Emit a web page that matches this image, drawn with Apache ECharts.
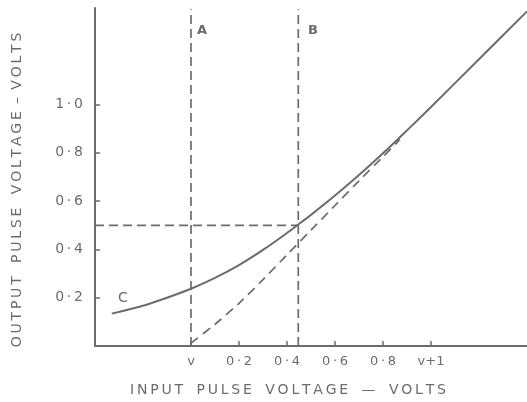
<!DOCTYPE html>
<html>
<head>
<meta charset="utf-8">
<script src="https://cdn.jsdelivr.net/npm/echarts@6/dist/echarts.min.js"></script>
<style>
html,body{margin:0;padding:0;background:#fff;}
#c{width:527px;height:402px;}
</style>
</head>
<body>
<div id="c"></div>
<script>
// ---- data ----
const xTickValues = [0, 0.2, 0.4, 0.6, 0.8, 1.0];
const xTickLabels = ['v', '0\u2009·\u20092', '0\u2009·\u20094', '0\u2009·\u20096', '0\u2009·\u20098', 'v+1'];
const yTickValues = [0.2, 0.4, 0.6, 0.8, 1.0];
const yTickLabels = ['0\u2009·\u20092', '0\u2009·\u20094', '0\u2009·\u20096', '0\u2009·\u20098', '1\u2009·\u20090'];

// curve C (solid): input vs output
const curveCx = [-0.33, -0.2, -0.1, 0, 0.1, 0.2, 0.3, 0.4, 0.447, 0.5, 0.6, 0.7, 0.8, 0.9, 1.0, 1.2, 1.4];
const curveCy = [0.134, 0.167, 0.2, 0.237, 0.282, 0.335, 0.398, 0.468, 0.503, 0.543, 0.623, 0.708, 0.798, 0.893, 0.99, 1.188, 1.386];

// dashed curve
const dashX = [0, 0.1, 0.2, 0.3, 0.4, 0.5, 0.6, 0.7, 0.8, 0.87];
const dashY = [0.012, 0.09, 0.177, 0.275, 0.378, 0.48, 0.582, 0.684, 0.784, 0.855];

// reference lines
const lineAX = [0, 0];
const lineAY = [0, 1.395];
const lineBX = [0.447, 0.447];
const lineBY = [0, 1.395];
const halfX = [-0.4, 0.447];
const halfY = [0.5, 0.5];

const markerLabels = ['A', 'B', 'C'];
const xTitle = 'I\u2009N\u2009P\u2009U\u2009T   P\u2009U\u2009L\u2009S\u2009E   V\u2009O\u2009L\u2009T\u2009A\u2009G\u2009E   —   V\u2009O\u2009L\u2009T\u2009S';
const yTitle = 'O\u2009U\u2009T\u2009P\u2009U\u2009T   P\u2009U\u2009L\u2009S\u2009E   V\u2009O\u2009L\u2009T\u2009A\u2009G\u2009E \u2009–\u2009 V\u2009O\u2009L\u2009T\u2009S';

// ---- chart ----
const ink = '#6c6c6c';
const font = 'DejaVu Sans';
const zip = (a, b) => a.map((v, i) => [v, b[i]]);

const chart = echarts.init(document.getElementById('c'), null, {renderer: 'canvas'});
chart.setOption({
  animation: false,
  backgroundColor: '#ffffff',
  grid: {left: 95, right: 0, top: 8, bottom: 56},
  xAxis: {
    type: 'value', min: -0.4, max: 1.4, interval: 0.2,
    splitLine: {show: false},
    axisLine: {onZero: false, lineStyle: {color: ink, width: 2}},
    axisTick: {show: true, inside: true, length: 5, lineStyle: {color: ink, width: 1.5}, customValues: xTickValues},
    axisLabel: {
      customValues: xTickValues, margin: 9, color: ink, fontFamily: font, fontSize: 13,
      formatter: v => { const i = xTickValues.findIndex(t => Math.abs(t - v) < 1e-6); return i >= 0 ? xTickLabels[i] : ''; }
    }
  },
  yAxis: {
    type: 'value', min: 0, max: 1.4, interval: 0.2,
    splitLine: {show: false},
    axisLine: {show: true, onZero: false, lineStyle: {color: ink, width: 2}},
    axisTick: {show: true, inside: true, length: 5, lineStyle: {color: ink, width: 1.5}, customValues: yTickValues},
    axisLabel: {
      customValues: yTickValues, margin: 12, color: ink, fontFamily: font, fontSize: 14,
      formatter: v => { const i = yTickValues.findIndex(t => Math.abs(t - v) < 1e-6); return i >= 0 ? yTickLabels[i] : ''; }
    }
  },
  series: [
    {type: 'line', data: zip(curveCx, curveCy), smooth: 0.3, showSymbol: false,
     lineStyle: {color: ink, width: 2}},
    {type: 'line', data: zip(dashX, dashY), smooth: 0.3, showSymbol: false,
     lineStyle: {color: ink, width: 1.7, type: [9, 6]}},
    {type: 'line', data: zip(lineAX, lineAY), showSymbol: false,
     lineStyle: {color: ink, width: 1.7, type: [9, 5]}},
    {type: 'line', data: zip(lineBX, lineBY), showSymbol: false,
     lineStyle: {color: ink, width: 1.7, type: [9, 5]}},
    {type: 'line', data: zip(halfX, halfY), showSymbol: false,
     lineStyle: {color: ink, width: 1.7, type: [9, 5]}}
  ],
  graphic: [
    {type: 'text', left: 197, top: 24, style: {text: markerLabels[0], fill: ink, font: 'bold 13px "DejaVu Sans"'}},
    {type: 'text', left: 308, top: 24, style: {text: markerLabels[1], fill: ink, font: 'bold 13px "DejaVu Sans"'}},
    {type: 'text', left: 118, top: 291, style: {text: markerLabels[2], fill: ink, font: '14px "DejaVu Sans"'}},
    {type: 'text', x: 288, y: 390, style: {text: xTitle, fill: ink, font: '14px "DejaVu Sans"', align: 'center', verticalAlign: 'middle'}},
    {type: 'text', x: 17, y: 190, rotation: Math.PI / 2, style: {text: yTitle, fill: ink, font: '14px "DejaVu Sans"', align: 'center', verticalAlign: 'middle'}}
  ]
});
</script>
</body>
</html>
